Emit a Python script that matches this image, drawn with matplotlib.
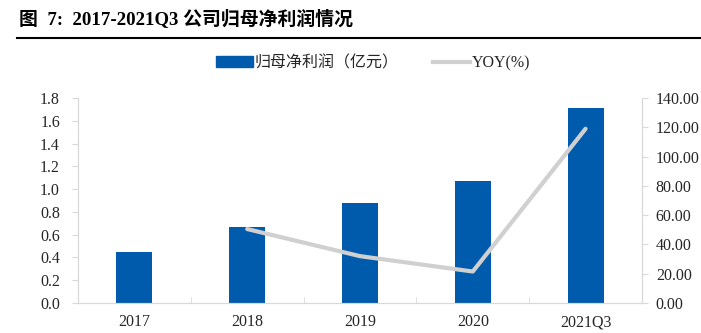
import matplotlib
matplotlib.use("Agg")
import matplotlib.pyplot as plt
from matplotlib.lines import Line2D
from matplotlib.patches import Patch

plt.rcParams['font.family'] = ['Liberation Serif', 'Noto Sans CJK SC']

categories = ['2017', '2018', '2019', '2020', '2021Q3']
profit = [0.45, 0.67, 0.88, 1.07, 1.71]
yoy_cats = ['2018', '2019', '2020', '2021Q3']
yoy = [50.5, 32.0, 21.5, 119.0]

blue = '#005bac'
grey = '#d0d0d0'
axcol = '#d9d9d9'
txtcol = '#262626'

fig = plt.figure(figsize=(7.01, 3.33), dpi=100)
ax = fig.add_axes([0.1113, 0.0901, 0.8045, 0.6156])
x = list(range(len(categories)))
ax.bar(x, profit, width=0.32, color=blue, zorder=2)
ax.set_xlim(-0.5, len(categories) - 0.5)
ax.set_ylim(0, 1.8)
ax.set_yticks([i * 0.2 for i in range(10)])
ax.set_yticklabels([f'{i * 0.2:.1f}' for i in range(10)], fontsize=11.5, color=txtcol)
ax.set_xticks(x)
ax.set_xticklabels(categories, fontsize=11.5, color=txtcol)
ax.set_xticks([i + 0.5 for i in range(len(categories) - 1)], minor=True)
ax.tick_params(axis='x', which='major', length=0, pad=8)
ax.tick_params(axis='x', which='minor', length=4, color=axcol, direction='in')
ax.tick_params(axis='y', length=4, color=axcol, pad=9)
ax.spines['top'].set_visible(False)
for s in ['left', 'right', 'bottom']:
    ax.spines[s].set_color(axcol)

ax2 = ax.twinx()
xi = [categories.index(c) for c in yoy_cats]
ax2.plot(xi, yoy, color=grey, lw=3, solid_capstyle='round', zorder=3)
ax2.set_ylim(0, 140)
ax2.set_yticks(range(0, 141, 20))
ax2.set_yticklabels([f'{v:.2f}' for v in range(0, 141, 20)], fontsize=11.5, color=txtcol)
ax2.tick_params(axis='y', length=4, color=axcol, pad=6)
ax2.spines['top'].set_visible(False)
for s in ['left', 'right', 'bottom']:
    ax2.spines[s].set_color(axcol)

handles = [Patch(color=blue), Line2D([0], [0], color=grey, lw=3)]
fig.legend(handles, ['归母净利润（亿元）', 'YOY(%)'], loc='center',
           bbox_to_anchor=(0.532, 0.81), ncol=2, frameon=False,
           handlelength=2.3, handletextpad=0.1, columnspacing=2.2,
           labelcolor=txtcol,
           prop={'family': ['Liberation Serif', 'Noto Sans CJK SC'], 'size': 11.5})

fig.text(0.027, 0.945, '图  7:  2017-2021Q3 公司归母净利润情况', fontsize=13.6,
         fontweight='bold', ha='left', va='center')
fig.add_artist(Line2D([0.024, 1.0], [0.887, 0.887], color='black', lw=1.5))

fig.savefig('out.png', dpi=100)
